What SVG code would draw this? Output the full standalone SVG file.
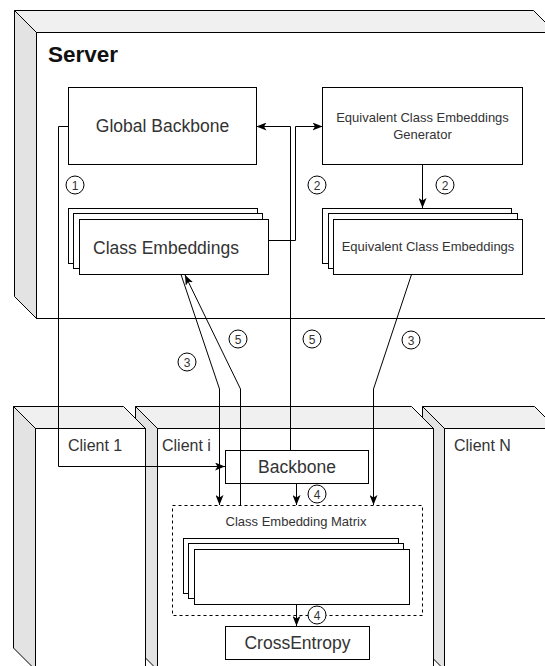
<svg xmlns="http://www.w3.org/2000/svg" width="545" height="666" viewBox="0 0 545 666">
<defs>
<style>
.top{fill:#f0f0f0;stroke:#000;stroke-width:1}
.side{fill:#e3e3e3;stroke:#000;stroke-width:1}
.front{fill:#fff;stroke:#000;stroke-width:1}
.box{fill:#fff;stroke:#000;stroke-width:1}
.dash{fill:none;stroke:#000;stroke-width:1;stroke-dasharray:3 3}
.t{font-family:"Liberation Sans",Arial,sans-serif;fill:#333}
.big{font-size:17.5px;text-anchor:middle}
.sm{font-size:13px;text-anchor:middle}
.cl{font-size:16px}
.c{fill:#fff;stroke:#000;stroke-width:1}
.n{font-family:"Liberation Sans",Arial,sans-serif;font-size:12px;fill:#333;text-anchor:middle}
.ln{fill:none;stroke:#000;stroke-width:1}
.ar{fill:none;stroke:#000;stroke-width:1;marker-end:url(#arr)}
</style>
<marker id="arr" viewBox="0 0 10 8" refX="10" refY="4" markerWidth="10" markerHeight="8" markerUnits="userSpaceOnUse" orient="auto">
<path d="M0,0 L10,4 L0,8 L2.5,4 Z" fill="#000"/>
</marker>
</defs>

<g id="server">
<path class="top" d="M14.5,10.5 H533.5 L555.5,32.5 H36.5 Z"/>
<path class="side" d="M14.5,10.5 L36.5,32.5 V318.5 L14.5,296.5 Z"/>
<rect class="front" x="36.5" y="32.5" width="519" height="286"/>
<text x="48" y="62" font-family="Liberation Sans,Arial,sans-serif" font-size="22.5" font-weight="bold" fill="#111">Server</text>
</g>

<g id="global-backbone">
<rect class="box" x="68.5" y="87.5" width="188" height="77"/>
<text class="t big" x="162.5" y="132">Global Backbone</text>
</g>

<g id="eceg">
<rect class="box" x="322.5" y="87.5" width="200" height="77"/>
<text class="t sm" x="422.5" y="122">Equivalent Class Embeddings</text>
<text class="t sm" x="422.5" y="139">Generator</text>
</g>

<g id="class-embeddings">
<rect class="box" x="68.5" y="208.5" width="189" height="55"/>
<rect class="box" x="73.5" y="213.5" width="189" height="55"/>
<rect class="box" x="79.5" y="219.5" width="189" height="55"/>
<text class="t big" x="166" y="254">Class Embeddings</text>
</g>

<g id="equivalent-class-embeddings">
<rect class="box" x="322.5" y="208.5" width="189" height="55"/>
<rect class="box" x="328.5" y="213.5" width="189" height="55"/>
<rect class="box" x="333.5" y="219.5" width="189" height="55"/>
<text class="t sm" x="428" y="251">Equivalent Class Embeddings</text>
</g>

<g id="client-n">
<path class="top" d="M422.5,406.5 H534.5 L556.5,428.5 H444.5 Z"/>
<path class="side" d="M422.5,406.5 L444.5,428.5 V670 L422.5,648 Z"/>
<rect class="front" x="444.5" y="428.5" width="112" height="245"/>
<text class="t cl" x="454" y="451">Client N</text>
</g>

<g id="client-i">
<path class="top" d="M135.5,406.5 H411.5 L433.5,428.5 H157.5 Z"/>
<path class="side" d="M135.5,406.5 L157.5,428.5 V670 L135.5,648 Z"/>
<rect class="front" x="157.5" y="428.5" width="276" height="245"/>
<text class="t cl" x="162" y="451">Client i</text>
</g>

<g id="client-1">
<path class="top" d="M13.5,406.5 H123.5 L145.5,428.5 H35.5 Z"/>
<path class="side" d="M13.5,406.5 L35.5,428.5 V670 L13.5,648 Z"/>
<rect class="front" x="35.5" y="428.5" width="110" height="245"/>
<text class="t cl" x="68" y="451">Client 1</text>
</g>

<g id="backbone">
<rect class="box" x="225.5" y="450.5" width="143" height="33"/>
<text class="t big" x="297" y="473">Backbone</text>
</g>

<g id="class-embedding-matrix">
<rect class="dash" x="172.5" y="505.5" width="250" height="110"/>
<text class="t sm" x="296" y="526">Class Embedding Matrix</text>
<rect class="box" x="183.5" y="538.5" width="215" height="55"/>
<rect class="box" x="188.5" y="543.5" width="215" height="55"/>
<rect class="box" x="194.5" y="549.5" width="215" height="55"/>
</g>

<g id="cross-entropy">
<rect class="box" x="225.5" y="626.5" width="144" height="33"/>
<text class="t big" x="297.5" y="649">CrossEntropy</text>
</g>

<g id="connectors">
<path class="ar" d="M68.5,126.5 H58.5 V466.5 H225"/>
<path class="ar" d="M268.5,240.5 H295.5 V126.5 H322.5"/>
<path class="ar" d="M290.5,450.5 V126.5 H256.5"/>
<path class="ar" d="M422.5,164.5 V208"/>
<path class="ar" d="M181,274.5 L219.5,389 V505"/>
<path class="ar" d="M240.5,505.5 V389 L185,275"/>
<path class="ar" d="M411.5,274.5 L373.5,389 V505"/>
<path class="ar" d="M296.5,483.5 V505"/>
<path class="ar" d="M296.5,604.5 V626"/>
</g>

<g id="step-labels">
<circle class="c" cx="75" cy="185" r="9"/><text class="n" x="75" y="189.5">1</text>
<circle class="c" cx="317" cy="185" r="9"/><text class="n" x="317" y="189.5">2</text>
<circle class="c" cx="445" cy="185" r="9"/><text class="n" x="445" y="189.5">2</text>
<circle class="c" cx="187" cy="362" r="9"/><text class="n" x="187" y="366.5">3</text>
<circle class="c" cx="238" cy="339" r="9"/><text class="n" x="238" y="343.5">5</text>
<circle class="c" cx="312" cy="339" r="9"/><text class="n" x="312" y="343.5">5</text>
<circle class="c" cx="411" cy="340" r="9"/><text class="n" x="411" y="344.5">3</text>
<circle class="c" cx="317" cy="494" r="9"/><text class="n" x="317" y="498.5">4</text>
<circle class="c" cx="317" cy="615" r="9"/><text class="n" x="317" y="619.5">4</text>
</g>
</svg>
